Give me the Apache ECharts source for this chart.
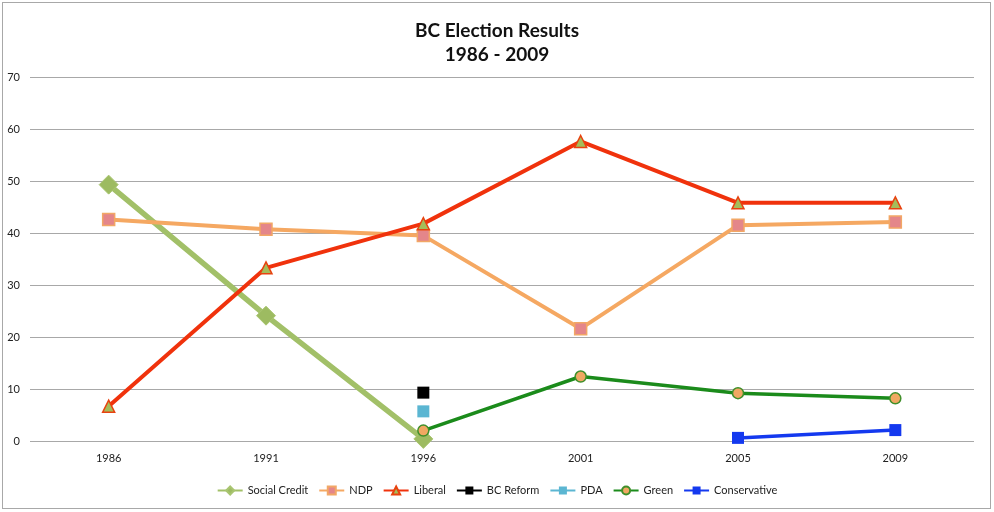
<!DOCTYPE html>
<html>
<head>
<meta charset="utf-8">
<script src="https://cdn.jsdelivr.net/npm/echarts@6/dist/echarts.min.js"></script>
<style>
html,body{margin:0;padding:0;background:#fff;}
#frame{position:absolute;left:2px;top:2px;width:989px;height:507px;border:1px solid #a8a8a8;box-sizing:border-box;}
#chart{position:absolute;left:0;top:0;width:994px;height:512px;}
</style>
</head>
<body>
<div id="frame"></div>
<div id="chart"></div>
<script>
var years = ['1986','1991','1996','2001','2005','2009'];
var socialCredit = [49.3, 24.1, 0.4, null, null, null];
var ndp = [42.6, 40.7, 39.5, 21.6, 41.5, 42.1];
var liberal = [6.7, 33.3, 41.8, 57.6, 45.8, 45.8];
var bcReform = [null, null, 9.3, null, null, null];
var pda = [null, null, 5.7, null, null, null];
var green = [null, null, 2.0, 12.4, 9.2, 8.2];
var conservative = [null, null, null, null, 0.6, 2.1];
var yTicks = [0, 10, 20, 30, 40, 50, 60, 70];

var font = 'Lato, "Open Sans", sans-serif';
var chart = echarts.init(document.getElementById('chart'));
chart.setOption({
  animation: false,
  title: {
    text: 'BC Election Results\n1986 - 2009',
    left: 'center',
    top: 14,
    textStyle: {fontFamily: font, fontSize: 19, fontWeight: 'bold', color: '#111', lineHeight: 24}
  },
  legend: {
    bottom: 11,
    left: 'center',
    itemWidth: 25,
    itemHeight: 10,
    itemGap: 10,
    textStyle: {fontFamily: font, fontSize: 11, color: '#222'},
    data: ['Social Credit','NDP','Liberal','BC Reform','PDA','Green','Conservative']
  },
  grid: {left: 30, right: 20, top: 77, bottom: 71},
  xAxis: {
    type: 'category',
    data: years,
    boundaryGap: true,
    axisLine: {show: false},
    axisTick: {show: false},
    axisLabel: {fontFamily: font, fontSize: 11, color: '#222', margin: 12}
  },
  yAxis: {
    type: 'value',
    min: yTicks[0],
    max: yTicks[yTicks.length - 1],
    interval: 10,
    axisLine: {show: false},
    axisTick: {show: false},
    axisLabel: {fontFamily: font, fontSize: 11, color: '#222', margin: 10},
    splitLine: {lineStyle: {color: '#a8a8a8', width: 1}}
  },
  series: [
    {name: 'Social Credit', type: 'line', data: socialCredit, connectNulls: false,
      symbol: 'diamond', symbolSize: 19,
      lineStyle: {color: '#a2c068', width: 5.5},
      itemStyle: {color: '#9dbb61', borderColor: '#a9c571', borderWidth: 1}},
    {name: 'NDP', type: 'line', data: ndp,
      symbol: 'rect', symbolSize: 12,
      lineStyle: {color: '#f5a862', width: 4},
      itemStyle: {color: '#e4868a', borderColor: '#f2a766', borderWidth: 1.5}},
    {name: 'Liberal', type: 'line', data: liberal,
      symbol: 'triangle', symbolSize: 12,
      lineStyle: {color: '#f0320c', width: 4},
      itemStyle: {color: '#a5bd5a', borderColor: '#e8420f', borderWidth: 1.5}},
    {name: 'BC Reform', type: 'line', data: bcReform,
      symbol: 'rect', symbolSize: 12,
      lineStyle: {color: '#000000', width: 4},
      itemStyle: {color: '#000000'}},
    {name: 'PDA', type: 'line', data: pda,
      symbol: 'rect', symbolSize: 12,
      lineStyle: {color: '#5bb6d2', width: 4},
      itemStyle: {color: '#5bb6d2'}},
    {name: 'Green', type: 'line', data: green,
      symbol: 'circle', symbolSize: 11,
      lineStyle: {color: '#1b8b1b', width: 3.5},
      itemStyle: {color: '#f0a862', borderColor: '#3f8f2a', borderWidth: 1.5}},
    {name: 'Conservative', type: 'line', data: conservative,
      symbol: 'rect', symbolSize: 12,
      lineStyle: {color: '#1439ef', width: 3.5},
      itemStyle: {color: '#1439ef'}}
  ]
});
</script>
</body>
</html>
